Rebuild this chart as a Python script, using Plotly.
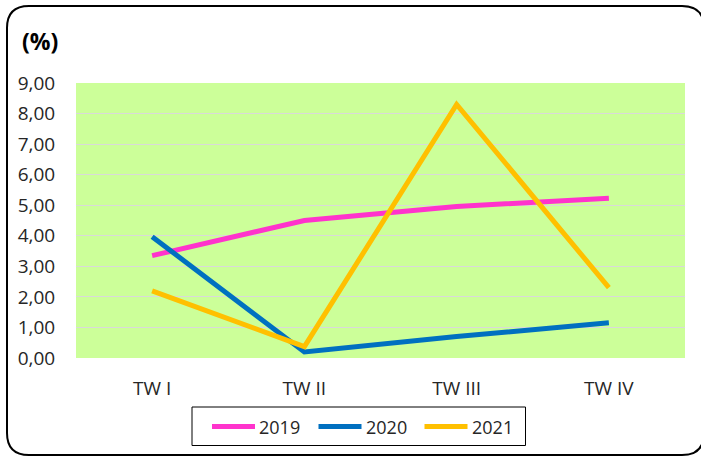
import plotly.graph_objects as go

# Quarterly growth (%) by year
quarters = ["TW I", "TW II", "TW III", "TW IV"]
y2019 = [3.35, 4.50, 4.96, 5.23]
y2020 = [3.97, 0.20, 0.70, 1.15]
y2021 = [2.20, 0.37, 8.30, 2.30]

series = [("2019", y2019, "#FF33CC"), ("2020", y2020, "#0070C0"), ("2021", y2021, "#FFC000")]
y_ticks = [i for i in range(10)]
y_tick_text = [f"{v},00" for v in y_ticks]

W, H = 701, 456
ML, MR, MT, MB = 76, 16, 83, 98
PW, PH = W - ML - MR, H - MT - MB


def px(x):
    return (x - ML) / PW


def py(y):
    return (H - MB - y) / PH


fig = go.Figure()
for name, vals, color in series:
    fig.add_trace(go.Scatter(
        x=quarters, y=vals, name=name, mode="lines",
        line=dict(color=color, width=5), showlegend=False,
    ))

# rounded outer frame
x0, y0, x1, y1, r = 7, 6, 704, 455, 22
frame = (
    f"M {px(x0)},{py(y0 + r)} Q {px(x0)},{py(y0)} {px(x0 + r)},{py(y0)} "
    f"L {px(x1 - r)},{py(y0)} Q {px(x1)},{py(y0)} {px(x1)},{py(y0 + r)} "
    f"L {px(x1)},{py(y1 - r)} Q {px(x1)},{py(y1)} {px(x1 - r)},{py(y1)} "
    f"L {px(x0 + r)},{py(y1)} Q {px(x0)},{py(y1)} {px(x0)},{py(y1 - r)} Z"
)
fig.add_shape(type="path", path=frame, xref="paper", yref="paper",
              line=dict(color="#000000", width=2), layer="above")

fig.add_annotation(text="<b>(%)</b>", x=px(20), y=py(41), xref="paper", yref="paper",
                   xanchor="left", yanchor="middle", showarrow=False,
                   font=dict(size=23, color="#000000"))

# legend box with line samples and labels
fig.add_shape(type="rect", xref="paper", yref="paper",
              x0=px(192), x1=px(525.5), y0=py(407), y1=py(445.5),
              line=dict(color="#000000", width=1), fillcolor="#FFFFFF")
leg_x = [210, 316.5, 422.5]
for (name, vals, color), lx in zip(series, leg_x):
    fig.add_shape(type="line", xref="paper", yref="paper",
                  x0=px(lx + 2), x1=px(lx + 45), y0=py(426.5), y1=py(426.5),
                  line=dict(color=color, width=5))
    fig.add_annotation(text=name, x=px(lx + 47), y=py(427), xref="paper", yref="paper",
                       xanchor="left", yanchor="middle", showarrow=False,
                       font=dict(size=18, color="#262626"))

tick_font = dict(family="Open Sans, sans-serif", size=19, color="#262626")

fig.update_layout(
    width=W, height=H,
    margin=dict(l=ML, r=MR, t=MT, b=MB),
    paper_bgcolor="#FFFFFF",
    plot_bgcolor="#CCFF99",
    font=dict(family="Open Sans, sans-serif", size=16, color="#262626"),
    showlegend=False,
    xaxis=dict(
        range=[-0.5, 3.5], showgrid=False, zeroline=False, showline=False,
        ticks="outside", ticklen=13, tickcolor="rgba(0,0,0,0)", tickfont=tick_font,
        automargin=False,
    ),
    yaxis=dict(
        range=[0, 9], tickvals=y_ticks, ticktext=y_tick_text,
        showgrid=True, gridcolor="#D9D9D9", gridwidth=1, zeroline=False, showline=False,
        ticks="outside", ticklen=16, tickcolor="rgba(0,0,0,0)", tickfont=tick_font,
        automargin=False,
    ),
)

fig.write_html("out.html")
